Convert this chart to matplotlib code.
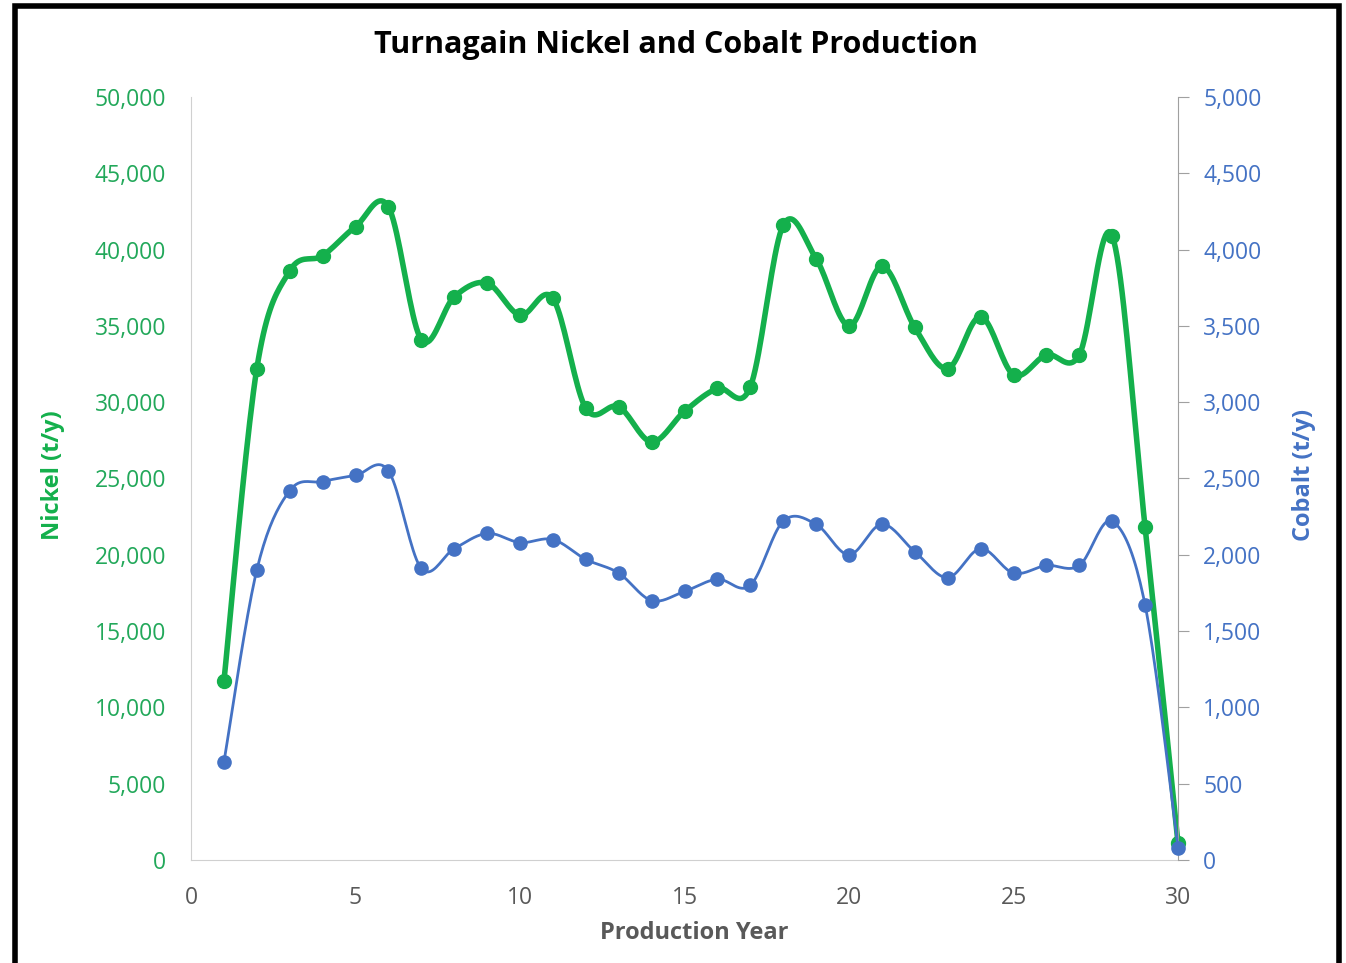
import matplotlib
matplotlib.use("Agg")
import matplotlib.pyplot as plt
from matplotlib.patches import Rectangle
from matplotlib.ticker import FuncFormatter
import numpy as np

plt.rcParams['font.family'] = ['Open Sans', 'DejaVu Sans']

years = list(range(1, 31))
nickel = [11700, 32200, 38600, 39600, 41500, 42800, 34100, 36900, 37800, 35700,
          36800, 29600, 29700, 27400, 29400, 30900, 31000, 41600, 39400, 35000,
          38900, 34900, 32200, 35600, 31800, 33100, 33100, 40900, 21800, 1100]
cobalt = [640, 1900, 2420, 2480, 2520, 2550, 1910, 2040, 2140, 2080,
          2100, 1970, 1880, 1700, 1760, 1840, 1800, 2220, 2200, 2000,
          2200, 2020, 1850, 2040, 1880, 1930, 1930, 2220, 1670, 80]

green = '#14B04C'
blue = '#4472C4'
grey = '#595959'


def smooth(x, y, n=20):
    # catmull-rom style curve through the points, like excel "smoothed line"
    x = np.asarray(x, float); y = np.asarray(y, float)
    px = np.r_[x[0], x, x[-1]]; py = np.r_[y[0], y, y[-1]]
    xs, ys = [], []
    t = np.linspace(0, 1, n, endpoint=False)
    for i in range(1, len(px) - 2):
        for p, out in ((px, xs), (py, ys)):
            p0, p1, p2, p3 = p[i-1], p[i], p[i+1], p[i+2]
            m1 = (p2 - p0) / 2; m2 = (p3 - p1) / 2
            h00 = 2*t**3 - 3*t**2 + 1; h10 = t**3 - 2*t**2 + t
            h01 = -2*t**3 + 3*t**2; h11 = t**3 - t**2
            out.extend(h00*p1 + h10*m1 + h01*p2 + h11*m2)
    xs.append(x[-1]); ys.append(y[-1])
    return np.array(xs), np.array(ys)


fig = plt.figure(figsize=(13.46, 9.63), dpi=100)
ax = fig.add_axes([0.1419, 0.1070, 0.7333, 0.7923])
ax2 = ax.twinx()

sx, sy = smooth(years, nickel)
ax.plot(sx, sy, color=green, lw=4.0, solid_capstyle='round', zorder=3, clip_on=False)
ax.plot(years, nickel, 'o', color=green, ms=10, zorder=4, clip_on=False)

cx, cy = smooth(years, cobalt)
ax2.plot(cx, cy, color=blue, lw=2.0, zorder=3, clip_on=False)
ax2.plot(years, cobalt, 'o', color=blue, ms=9.5, zorder=4, clip_on=False)

ax.set_xlim(0, 30)
ax.set_ylim(0, 50000)
ax2.set_ylim(0, 5000)
ax.set_xticks(range(0, 31, 5))
ax.set_yticks(range(0, 50001, 5000))
ax2.set_yticks(range(0, 5001, 500))
fmt = FuncFormatter(lambda v, p: f'{int(v):,}')
ax.yaxis.set_major_formatter(fmt)
ax2.yaxis.set_major_formatter(fmt)

for a in (ax, ax2):
    a.spines['top'].set_visible(False)
    a.patch.set_visible(False)
ax.spines['right'].set_visible(False)
ax.spines['left'].set_color('#D0D0D0')
ax.spines['bottom'].set_color('#D0D0D0')
ax2.spines['left'].set_visible(False)
ax2.spines['bottom'].set_visible(False)
ax2.spines['right'].set_color('#A0A0A0')

ax.tick_params(axis='y', length=0, pad=18, labelsize=16.5, labelcolor='#22A85A')
ax.tick_params(axis='x', length=0, pad=19, labelsize=16.5, labelcolor=grey)
ax2.tick_params(axis='y', length=8, color='#A0A0A0', pad=10, labelsize=16.5,
                labelcolor=blue)

fig.text(0.502, 0.953, 'Turnagain Nickel and Cobalt Production', ha='center',
         va='center', fontsize=22, fontweight='bold', color='black')
fig.text(0.0395, 0.507, 'Nickel (t/y)', rotation=90, ha='center', va='center',
         fontsize=17, fontweight='bold', color=green)
fig.text(0.9685, 0.507, 'Cobalt (t/y)', rotation=90, ha='center', va='center',
         fontsize=17, fontweight='bold', color=blue)
fig.text(0.5156, 0.031, 'Production Year', ha='center', va='center',
         fontsize=17, fontweight='bold', color=grey)

fig.patches.append(Rectangle((15/1346, -0.05), (1339-15)/1346, 1.05 - 6/963,
                             transform=fig.transFigure, fill=False,
                             edgecolor='black', lw=4, zorder=10))

fig.savefig('out.png', dpi=100)
